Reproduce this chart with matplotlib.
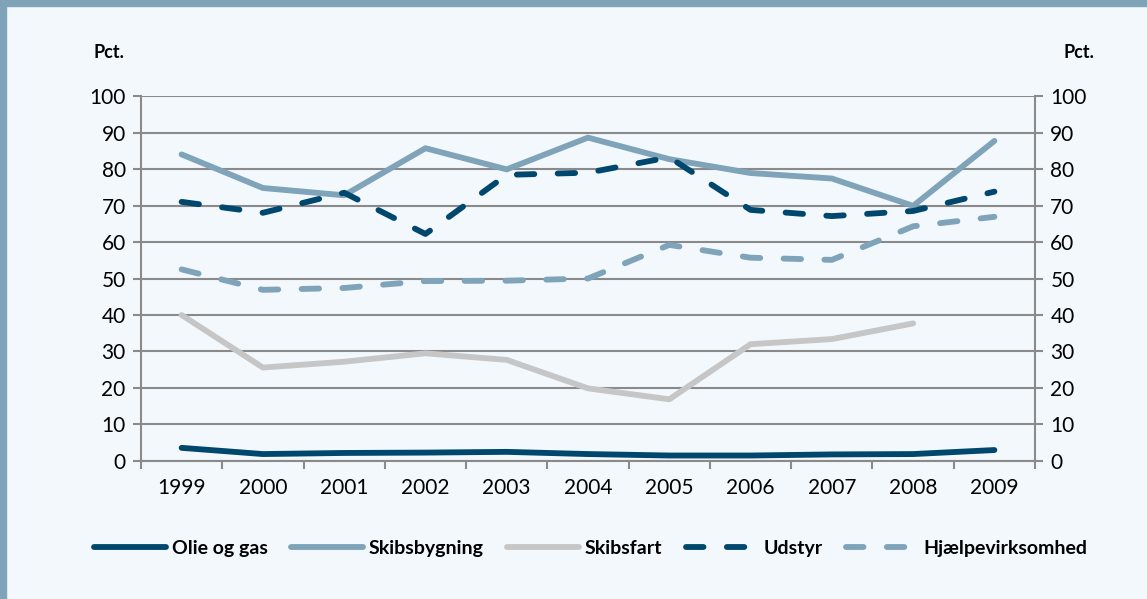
import matplotlib
matplotlib.use('Agg')
import matplotlib.pyplot as plt
import numpy as np
from matplotlib.patches import Rectangle

# data (pct.)
years = ['1999', '2000', '2001', '2002', '2003', '2004', '2005', '2006', '2007', '2008', '2009']
olie_og_gas = [3.6, 1.9, 2.2, 2.3, 2.5, 1.9, 1.5, 1.5, 1.8, 1.9, 3.0]
skibsbygning = [84.0, 74.8, 72.8, 85.7, 79.9, 88.6, 82.7, 78.9, 77.4, 69.9, 87.7]
skibsfart = [40.0, 25.6, 27.2, 29.5, 27.7, 19.9, 16.9, 32.0, 33.4, 37.7, np.nan]
udstyr = [71.0, 68.0, 73.5, 62.2, 78.4, 79.0, 83.2, 68.8, 67.1, 68.5, 73.8]
hjaelp = [52.5, 46.9, 47.4, 49.3, 49.4, 50.0, 59.2, 55.7, 55.1, 64.3, 66.9]

navy = '#00476e'
steel = '#7fa3b8'
lgrey = '#c6c6c6'
bg = '#f3f8fd'
gridc = '#8a8a8a'

plt.rcParams['font.family'] = ['Lato', 'DejaVu Sans']

fig = plt.figure(figsize=(11.47, 5.99), dpi=100, facecolor=bg)
ax = fig.add_axes([0.1229, 0.2304, 0.9024 - 0.1229, 0.8397 - 0.2304])
ax.set_facecolor(bg)

# frame strips (top bar and left edge)
fig.patches.append(Rectangle((0, 1 - 6 / 599), 1, 6 / 599, transform=fig.transFigure,
                             color=steel, zorder=0))
fig.patches.append(Rectangle((0, 0), 6 / 1147, 1, transform=fig.transFigure,
                             color=steel, zorder=0))

x = np.arange(len(years))
lw = 4.2
ax.plot(x, olie_og_gas, color=navy, lw=lw, solid_capstyle='round', solid_joinstyle='round',
        label='Olie og gas')
ax.plot(x, skibsbygning, color=steel, lw=lw, solid_capstyle='round', solid_joinstyle='round',
        label='Skibsbygning')
ax.plot(x, skibsfart, color=lgrey, lw=lw, solid_capstyle='round', solid_joinstyle='round',
        label='Skibsfart')
ax.plot(x, udstyr, color=navy, lw=lw, dashes=(3.0, 4.0), dash_capstyle='round',
        label='Udstyr')
ax.plot(x, hjaelp, color=steel, lw=lw, dashes=(3.0, 4.0), dash_capstyle='round',
        label='Hjælpevirksomhed')

ax.set_xlim(-0.5, len(years) - 0.5)
ax.set_ylim(0, 100)
ax.set_yticks(range(0, 101, 10))
ax.set_xticks(x)
ax.set_xticklabels(years)
ax.set_xticks(np.arange(-0.5, len(years)), minor=True)
ax.tick_params(axis='x', which='major', length=0, pad=12, labelsize=15)
ax.tick_params(axis='x', which='minor', length=6, width=1.5, color=gridc, direction='out')
ax.tick_params(axis='y', length=6, width=1.5, color=gridc, labelsize=15, pad=5,
               left=True, right=True, labelleft=True, labelright=True)
ax.grid(True, axis='y', color=gridc, lw=1.5, zorder=0)
for s in ['left', 'right', 'bottom']:
    ax.spines[s].set_color(gridc)
    ax.spines[s].set_linewidth(1.5)
ax.spines['top'].set_visible(False)

fig.text(0.095, 0.913, 'Pct.', fontsize=13, fontweight='bold', ha='center', va='center')
fig.text(0.941, 0.913, 'Pct.', fontsize=13, fontweight='bold', ha='center', va='center')

leg = fig.legend(loc='center', bbox_to_anchor=(0.515, 0.085), ncol=5, frameon=False,
                 handlelength=3.7, handletextpad=0.3, columnspacing=1.2,
                 prop={'weight': 'bold', 'size': 14})

plt.savefig('out.png', dpi=100, facecolor=bg)
